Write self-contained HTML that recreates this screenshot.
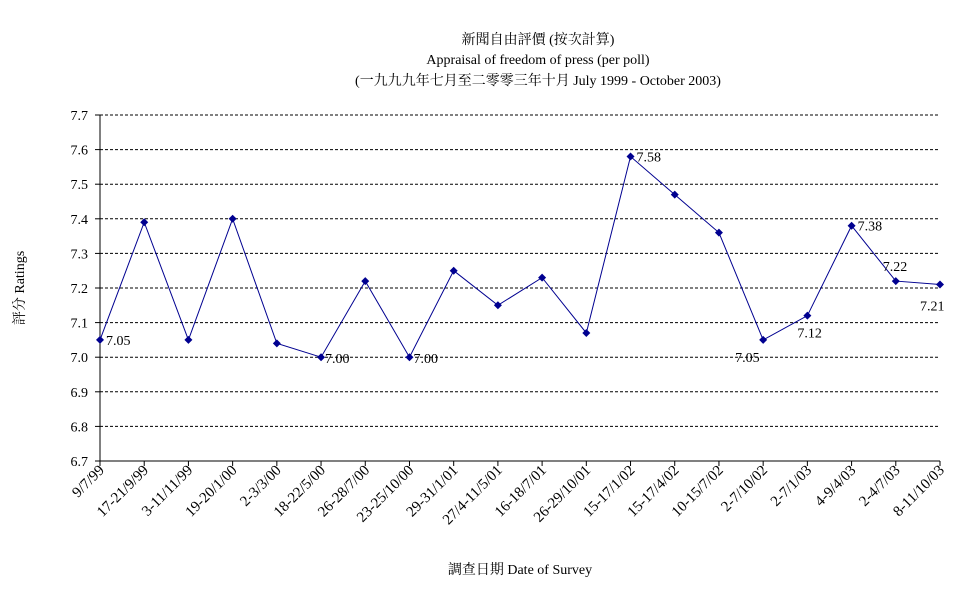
<!DOCTYPE html>
<html><head><meta charset="utf-8"><style>
body{margin:0;background:#fff;}
svg{display:block;font-family:"Liberation Serif","Noto Serif CJK TC",serif;}
</style></head><body>
<svg width="977" height="600" viewBox="0 0 977 600">
<text x="538" y="44" font-size="14" text-anchor="middle">新聞自由評價 (按次計算)</text>
<text x="538" y="64" font-size="14" text-anchor="middle">Appraisal of freedom of press (per poll)</text>
<text x="538" y="85" font-size="14" text-anchor="middle">(一九九九年七月至二零零三年十月 July 1999 - October 2003)</text>
<g id="grid"></g><g id="yaxis"></g><g id="xaxis"></g><g id="series"></g>
<text x="520" y="574" font-size="14" text-anchor="middle">調查日期 Date of Survey</text>
<text transform="translate(24,288) rotate(-90)" font-size="14" text-anchor="middle">評分 Ratings</text>
</svg>
<script>
const categories=["9/7/99","17-21/9/99","3-11/11/99","19-20/1/00","2-3/3/00","18-22/5/00","26-28/7/00","23-25/10/00","29-31/1/01","27/4-11/5/01","16-18/7/01","26-29/10/01","15-17/1/02","15-17/4/02","10-15/7/02","2-7/10/02","2-7/1/03","4-9/4/03","2-4/7/03","8-11/10/03"];
const values=[7.05,7.39,7.05,7.40,7.04,7.00,7.22,7.00,7.25,7.15,7.23,7.07,7.58,7.47,7.36,7.05,7.12,7.38,7.22,7.21];
const yTicks=[6.7,6.8,6.9,7.0,7.1,7.2,7.3,7.4,7.5,7.6,7.7];
const labelIdx=[0,5,7,12,15,16,17,18,19];
const NS="http://www.w3.org/2000/svg";
const L=100,R=940,T=115,B=461,ymin=6.7,ymax=7.7;
const xs=i=>L+(R-L)*i/(categories.length-1);
const ys=v=>B-(v-ymin)/(ymax-ymin)*(B-T);
function mk(tag,attrs,parent,txt){const e=document.createElementNS(NS,tag);for(const k in attrs)e.setAttribute(k,attrs[k]);if(txt!==undefined)e.textContent=txt;document.getElementById(parent).appendChild(e);return e;}
yTicks.forEach(v=>{
 if(v>ymin){const g=mk('line',{x1:L,x2:R,y1:ys(v),y2:ys(v),stroke:'#000','stroke-dasharray':'3,2','stroke-width':1},'grid');
 
 }
 const t=mk('text',{x:L-12,y:ys(v)+5,'font-size':14,'text-anchor':'end'},'yaxis',v.toFixed(1));
 
 
 mk('line',{x1:L-5,x2:L,y1:ys(v),y2:ys(v),stroke:'#000'},'yaxis');
});
mk('line',{x1:L,x2:L,y1:T,y2:B,stroke:'#000'},'yaxis');
mk('line',{x1:L,x2:R,y1:B,y2:B,stroke:'#000'},'xaxis');
categories.forEach((c,i)=>{
 const x=xs(i);
 mk('line',{x1:x,x2:x,y1:B,y2:B+5,stroke:'#000'},'xaxis');
 const t=mk('text',{transform:`translate(${x+5},${B+10}) rotate(-45)`,'font-size':15,'text-anchor':'end'},'xaxis',c);
 
 
});
const line=mk('polyline',{points:values.map((v,i)=>xs(i)+','+ys(v)).join(' '),fill:'none',stroke:'#000090','stroke-width':1},'series');


values.forEach((v,i)=>{
 const x=xs(i),y=ys(v);
 const p=mk('polygon',{points:`${x},${y-4} ${x+4},${y} ${x},${y+4} ${x-4},${y}`,fill:'#000090'},'series');
 
 
});
const offs={0:[6,5,'start'],5:[4,6,'start'],7:[4,6,'start'],12:[6,5,'start'],15:[-28,22,'start'],16:[-10,22,'start'],17:[6,5,'start'],18:[-13,-10,'start'],19:[-20,26,'start']};
labelIdx.forEach(i=>{
 const o=offs[i]||[6,5,'start'];
 const t=mk('text',{x:xs(i)+o[0],y:ys(values[i])+o[1],'font-size':14,'text-anchor':o[2]},'series',values[i].toFixed(2));
 
 
});
</script>
</body></html>
